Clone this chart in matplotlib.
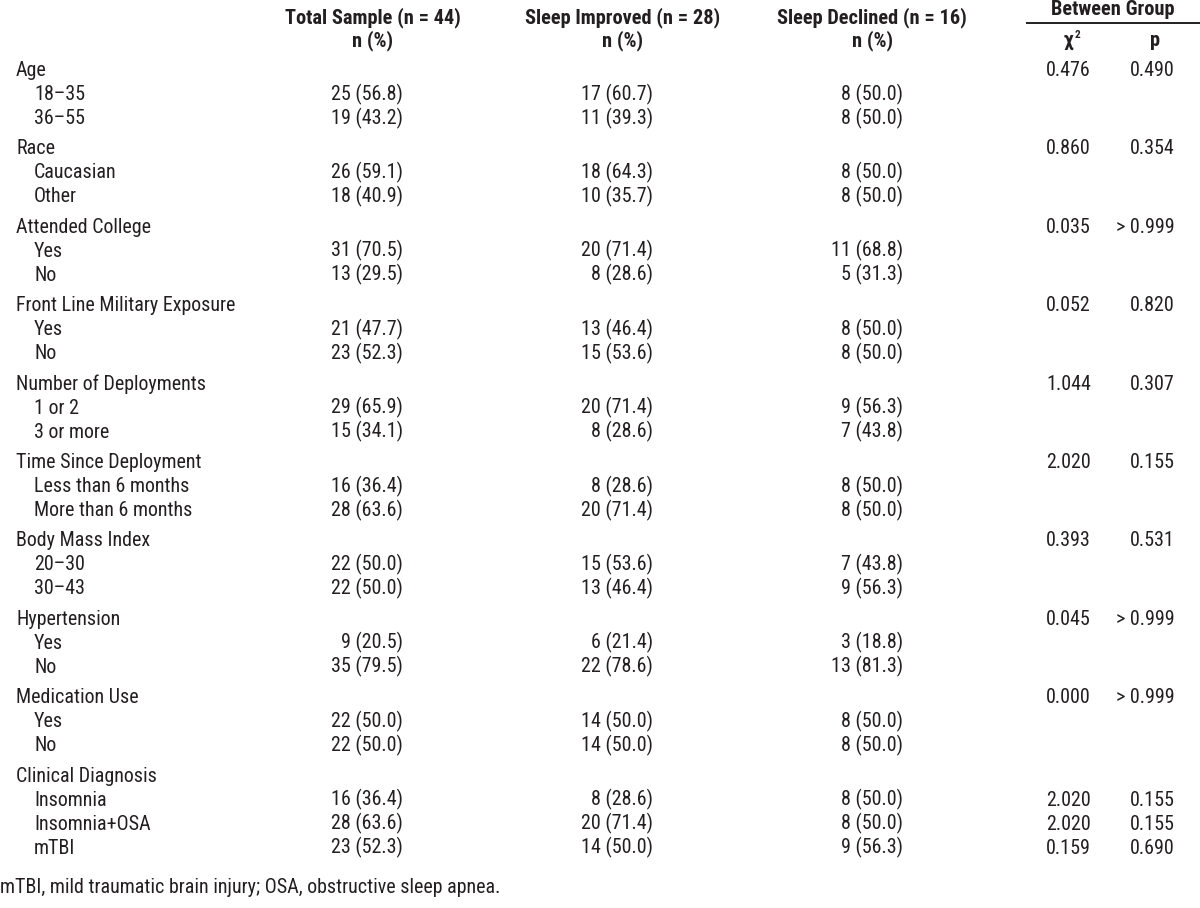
import matplotlib
matplotlib.use("Agg")
import matplotlib.pyplot as plt
from matplotlib import font_manager as fm
from matplotlib.font_manager import FontProperties

col_headers = ["Total Sample (n = 44)", "Sleep Improved (n = 28)", "Sleep Declined (n = 16)"]
categories = ["Age", "Race", "Attended College", "Front Line Military Exposure",
              "Number of Deployments", "Time Since Deployment", "Body Mass Index",
              "Hypertension", "Medication Use", "Clinical Diagnosis"]
sublabels = [["18\u201335", "36\u201355"], ["Caucasian", "Other"], ["Yes", "No"], ["Yes", "No"],
             ["1 or 2", "3 or more"], ["Less than 6 months", "More than 6 months"],
             ["20\u201330", "30\u201343"], ["Yes", "No"], ["Yes", "No"],
             ["Insomnia", "Insomnia+OSA", "mTBI"]]
total = [["25 (56.8)", "19 (43.2)"], ["26 (59.1)", "18 (40.9)"], ["31 (70.5)", "13 (29.5)"],
         ["21 (47.7)", "23 (52.3)"], ["29 (65.9)", "15 (34.1)"], ["16 (36.4)", "28 (63.6)"],
         ["22 (50.0)", "22 (50.0)"], ["9 (20.5)", "35 (79.5)"], ["22 (50.0)", "22 (50.0)"],
         ["16 (36.4)", "28 (63.6)", "23 (52.3)"]]
improved = [["17 (60.7)", "11 (39.3)"], ["18 (64.3)", "10 (35.7)"], ["20 (71.4)", "8 (28.6)"],
            ["13 (46.4)", "15 (53.6)"], ["20 (71.4)", "8 (28.6)"], ["8 (28.6)", "20 (71.4)"],
            ["15 (53.6)", "13 (46.4)"], ["6 (21.4)", "22 (78.6)"], ["14 (50.0)", "14 (50.0)"],
            ["8 (28.6)", "20 (71.4)", "14 (50.0)"]]
declined = [["8 (50.0)", "8 (50.0)"], ["8 (50.0)", "8 (50.0)"], ["11 (68.8)", "5 (31.3)"],
            ["8 (50.0)", "8 (50.0)"], ["9 (56.3)", "7 (43.8)"], ["8 (50.0)", "8 (50.0)"],
            ["7 (43.8)", "9 (56.3)"], ["3 (18.8)", "13 (81.3)"], ["8 (50.0)", "8 (50.0)"],
            ["8 (50.0)", "8 (50.0)", "9 (56.3)"]]
chi2 = ["0.476", "0.860", "0.035", "0.052", "1.044", "2.020", "0.393", "0.045", "0.000",
        ["2.020", "2.020", "0.159"]]
pval = ["0.490", "0.354", "> 0.999", "0.820", "0.307", "0.155", "0.531", "> 0.999", "> 0.999",
        ["0.155", "0.155", "0.690"]]
footnote = "mTBI, mild traumatic brain injury; OSA, obstructive sleep apnea."

# ---- font choice: prefer a condensed sans, fall back to Liberation Sans
def weight_num(w):
    if isinstance(w, (int, float)):
        return int(w)
    return {"normal": 400, "regular": 400, "book": 400, "medium": 500,
            "bold": 700, "semibold": 600, "demibold": 600}.get(str(w).lower(), 400)

entries = [e for e in fm.fontManager.ttflist if e.style == "normal"]
prefs = ["Liberation Sans Narrow", "Arial Narrow", "Roboto Condensed", "Noto Sans Condensed",
         "Open Sans Condensed", "Open Sans SemiCondensed"]
reg_file = bold_file = None
for nm in prefs:
    regs = [e for e in entries if e.name == nm and weight_num(e.weight) == 400]
    bolds = [e for e in entries if e.name == nm and weight_num(e.weight) == 700]
    if regs and bolds:
        reg_file, bold_file = regs[0].fname, bolds[0].fname
        break
if reg_file is None:
    for nm in ["Roboto", "Noto Sans", "Open Sans"]:
        regs = [e for e in entries if e.name == nm and "condensed" in str(e.stretch)
                and weight_num(e.weight) == 400]
        bolds = [e for e in entries if e.name == nm and "condensed" in str(e.stretch)
                 and weight_num(e.weight) == 700]
        if regs and bolds:
            reg_file, bold_file = regs[0].fname, bolds[0].fname
            break

def fp(bold, size):
    f = bold_file if bold else reg_file
    if f is not None:
        return FontProperties(fname=f, size=size)
    return FontProperties(family="Liberation Sans", weight="bold" if bold else "normal", size=size)

W, H = 1200, 908
fig = plt.figure(figsize=(W / 100, H / 100), dpi=100)
fig.patch.set_facecolor("white")
ax = fig.add_axes([0, 0, 1, 1])
ax.set_xlim(0, W)
ax.set_ylim(H, 0)
ax.axis("off")
renderer = fig.canvas.get_renderer()

def width_at(s, bold, size):
    tt = fig.text(0, 0, s, fontproperties=fp(bold, size))
    w = tt.get_window_extent(renderer).width
    tt.remove()
    return w

FS = 10 * 220.0 / width_at("Front Line Military Exposure", False, 10)
FSB = 10 * 176.0 / width_at("Total Sample (n = 44)", True, 10)

C = "#231f20"

def t(x, y, s, ha="left", bold=False, size=None):
    ax.text(x, y, s, ha=ha, va="baseline", color=C,
            fontproperties=fp(bold, size if size else (FSB if bold else FS)))

# headers
hx = [373, 623, 872]
for x, h in zip(hx, col_headers):
    t(x, 23, h, ha="center", bold=True)
    t(x, 46, "n (%)", ha="center", bold=True)
t(1113, 15, "Between Group", ha="center", bold=True)
ax.plot([1026, 1200], [23, 23], color=C, lw=1.4, solid_capstyle="butt")
t(1068, 46, "\u03c7", ha="center", bold=True)
t(1075, 38, "2", ha="left", bold=True, size=FSB * 0.55)
t(1155, 46, "p", ha="center", bold=True)

# body
base0 = 76
sub_step = 24
group_step = 78.4
rx = [403, 653, 903]
cx, px = 1091, 1175
for i, cat in enumerate(categories):
    y = base0 + i * group_step
    t(16, y, cat)
    if not isinstance(chi2[i], list):
        t(cx, y, chi2[i], ha="right")
        t(px, y, pval[i], ha="right")
    for j, sub in enumerate(sublabels[i]):
        yy = y + sub_step * (j + 1)
        t(34, yy, sub)
        t(rx[0], yy, total[i][j], ha="right")
        t(rx[1], yy, improved[i][j], ha="right")
        t(rx[2], yy, declined[i][j], ha="right")
        if isinstance(chi2[i], list):
            t(cx, yy, chi2[i][j], ha="right")
            t(px, yy, pval[i][j], ha="right")

t(0, 893, footnote)

fig.savefig("out.png", dpi=100, facecolor="white")
